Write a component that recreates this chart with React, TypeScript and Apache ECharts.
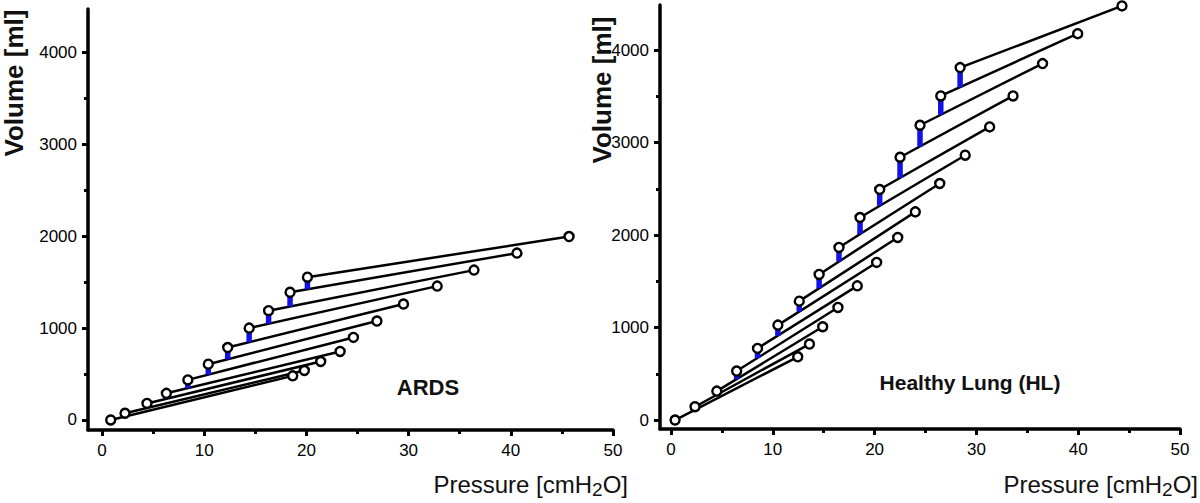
import React, { useEffect, useRef } from 'react';
import * as echarts from 'echarts';

// ARDS: staircase (start) points and end-inspiration points, pressure [cmH2O] / volume [ml]
const ardsStartP = [0.85, 2.25, 4.4, 6.3, 8.4, 10.4, 12.3, 14.4, 16.3, 18.4, 20.1];
const ardsStartV = [0, 73, 180, 290, 436, 607, 788, 999, 1189, 1389, 1553];
const ardsEndP = [18.66, 19.8, 21.4, 23.3, 24.6, 26.9, 29.5, 32.8, 36.4, 40.6, 45.7];
const ardsEndV = [480, 538, 636, 745, 898, 1076, 1261, 1456, 1630, 1815, 1995];

// Healthy lung
const hlStartP = [0.4, 2.36, 4.5, 6.45, 8.5, 10.5, 12.6, 14.55, 16.5, 18.57, 20.5, 22.5, 24.46, 26.5, 28.4];
const hlStartV = [0, 144, 313, 530, 775, 1027, 1286, 1575, 1867, 2191, 2494, 2843, 3189, 3506, 3813];
const hlEndP = [12.45, 13.6, 14.9, 16.4, 18.3, 20.2, 22.27, 24.0, 26.4, 28.9, 31.3, 33.6, 36.5, 39.95, 44.3];
const hlEndV = [684, 822, 1009, 1218, 1452, 1705, 1975, 2252, 2559, 2865, 3171, 3506, 3856, 4180, 4480];

const xMajor = [0, 10, 20, 30, 40, 50];
const xMinor = [5, 15, 25, 35, 45];
const yMajor = [0, 1000, 2000, 3000, 4000];
const yMinor = [500, 1500, 2500, 3500];

const tickFont = "'Liberation Sans Narrow', 'Arial Narrow', 'Liberation Sans', Arial, sans-serif";
const mainFont = "'Liberation Sans', Arial, Helvetica, sans-serif";

function buildSeries(sp: number[], sv: number[], ep: number[], ev: number[], ax: number) {
  const out: any[] = [];
  for (let i = 0; i < sp.length; i++) {
    out.push({
      type: 'line', xAxisIndex: ax, yAxisIndex: ax, silent: true, symbol: 'none', z: 2,
      data: [[sp[i], sv[i]], [ep[i], ev[i]]],
      lineStyle: { color: '#000', width: 2.5 },
    });
  }
  for (let i = 1; i < sp.length; i++) {
    const yb = sv[i - 1] + (sp[i] - sp[i - 1]) * (ev[i - 1] - sv[i - 1]) / (ep[i - 1] - sp[i - 1]);
    if (sv[i] - yb > 0) {
      out.push({
        type: 'line', xAxisIndex: ax, yAxisIndex: ax, silent: true, symbol: 'none', z: 3,
        data: [[sp[i], yb], [sp[i], sv[i]]],
        lineStyle: { color: '#1212e6', width: 5.5, cap: 'butt' },
      });
    }
  }
  const pts: number[][] = [];
  for (let i = 0; i < sp.length; i++) pts.push([sp[i], sv[i]]);
  for (let i = 0; i < ep.length; i++) pts.push([ep[i], ev[i]]);
  out.push({
    type: 'scatter', xAxisIndex: ax, yAxisIndex: ax, silent: true, clip: false, z: 4,
    symbol: 'circle', symbolSize: 9,
    data: pts,
    itemStyle: { color: '#fff', opacity: 1, borderColor: '#000', borderWidth: 2.4 },
  });
  return out;
}

const fmt = (v: number) => String(v);

function xAxes(gridIndex: number, min: number) {
  return [
    {
      type: 'value', gridIndex, min, max: 50, position: 'bottom',
      axisLine: { onZero: false, lineStyle: { color: '#000', width: 3.5 } },
      splitLine: { show: false },
      axisTick: { customValues: xMajor, length: 6, lineStyle: { color: '#000', width: 3 } },
      axisLabel: { customValues: xMajor, formatter: fmt, margin: 12, fontFamily: tickFont, fontSize: 17, color: '#000' },
    },
    {
      type: 'value', gridIndex, min, max: 50, position: 'bottom',
      axisLine: { show: false, onZero: false },
      splitLine: { show: false },
      axisTick: { customValues: xMinor, length: 4, lineStyle: { color: '#000', width: 3 } },
      axisLabel: { show: false },
    },
  ];
}

function yAxes(gridIndex: number, min: number, max: number) {
  return [
    {
      type: 'value', gridIndex, min, max, position: 'left',
      axisLine: { onZero: false, lineStyle: { color: '#000', width: 3.5 } },
      splitLine: { show: false },
      axisTick: { customValues: yMajor, length: 6, lineStyle: { color: '#000', width: 3 } },
      axisLabel: { customValues: yMajor, formatter: fmt, margin: 11, fontFamily: tickFont, fontSize: 17, color: '#000' },
    },
    {
      type: 'value', gridIndex, min, max, position: 'left',
      axisLine: { show: false, onZero: false },
      splitLine: { show: false },
      axisTick: { customValues: yMinor, length: 4, lineStyle: { color: '#000', width: 3 } },
      axisLabel: { show: false },
    },
  ];
}

function pressureLabel(x: number, y: number) {
  return {
    type: 'text', x, y, silent: true,
    style: {
      text: '{n|Pressure [cmH}{s|2}{n|O]}',
      textAlign: 'right', textVerticalAlign: 'middle', fill: '#111',
      rich: {
        n: { fontFamily: mainFont, fontSize: 24, lineHeight: 30, fill: '#111' },
        s: { fontFamily: mainFont, fontSize: 19, lineHeight: 18, verticalAlign: 'bottom', fill: '#111' },
      },
    },
  };
}

function volumeLabel(x: number, y: number) {
  return {
    type: 'text', x, y, rotation: Math.PI / 2, silent: true,
    style: {
      text: 'Volume [ml]', textAlign: 'center', textVerticalAlign: 'middle',
      font: `bold 26px ${mainFont}`, fill: '#111',
    },
  };
}

export default function App() {
  const ref = useRef<HTMLDivElement>(null);
  useEffect(() => {
    const chart = echarts.init(ref.current!, null, { renderer: 'svg' });
    const option: any = {
      animation: false,
      backgroundColor: '#fff',
      grid: [
        { left: 88, top: 9, width: 525, height: 421 },
        { left: 660, top: 5, width: 520, height: 424 },
      ],
      xAxis: [...xAxes(0, -1.37), ...xAxes(1, -1.08)],
      yAxis: [...yAxes(0, -109, 4470), ...yAxes(1, -97, 4490)],
      series: [
        ...buildSeries(ardsStartP, ardsStartV, ardsEndP, ardsEndV, 0),
        ...buildSeries(hlStartP, hlStartV, hlEndP, hlEndV, 2),
      ],
      graphic: [
        volumeLabel(14, 83),
        volumeLabel(602, 90),
        pressureLabel(628, 484),
        pressureLabel(1198, 484),
        {
          type: 'text', x: 428, y: 387, silent: true,
          style: { text: 'ARDS', textAlign: 'center', textVerticalAlign: 'middle', font: `bold 22px ${mainFont}`, fill: '#111' },
        },
        {
          type: 'text', x: 970, y: 382, silent: true,
          style: { text: 'Healthy Lung (HL)', textAlign: 'center', textVerticalAlign: 'middle', font: `bold 21px ${mainFont}`, fill: '#111' },
        },
      ],
    };
    chart.setOption(option);
    return () => chart.dispose();
  }, []);
  return (
    <div
      ref={ref}
      style={{ position: 'fixed', left: 0, top: 0, width: 1200, height: 503, background: '#fff' }}
    />
  );
}
